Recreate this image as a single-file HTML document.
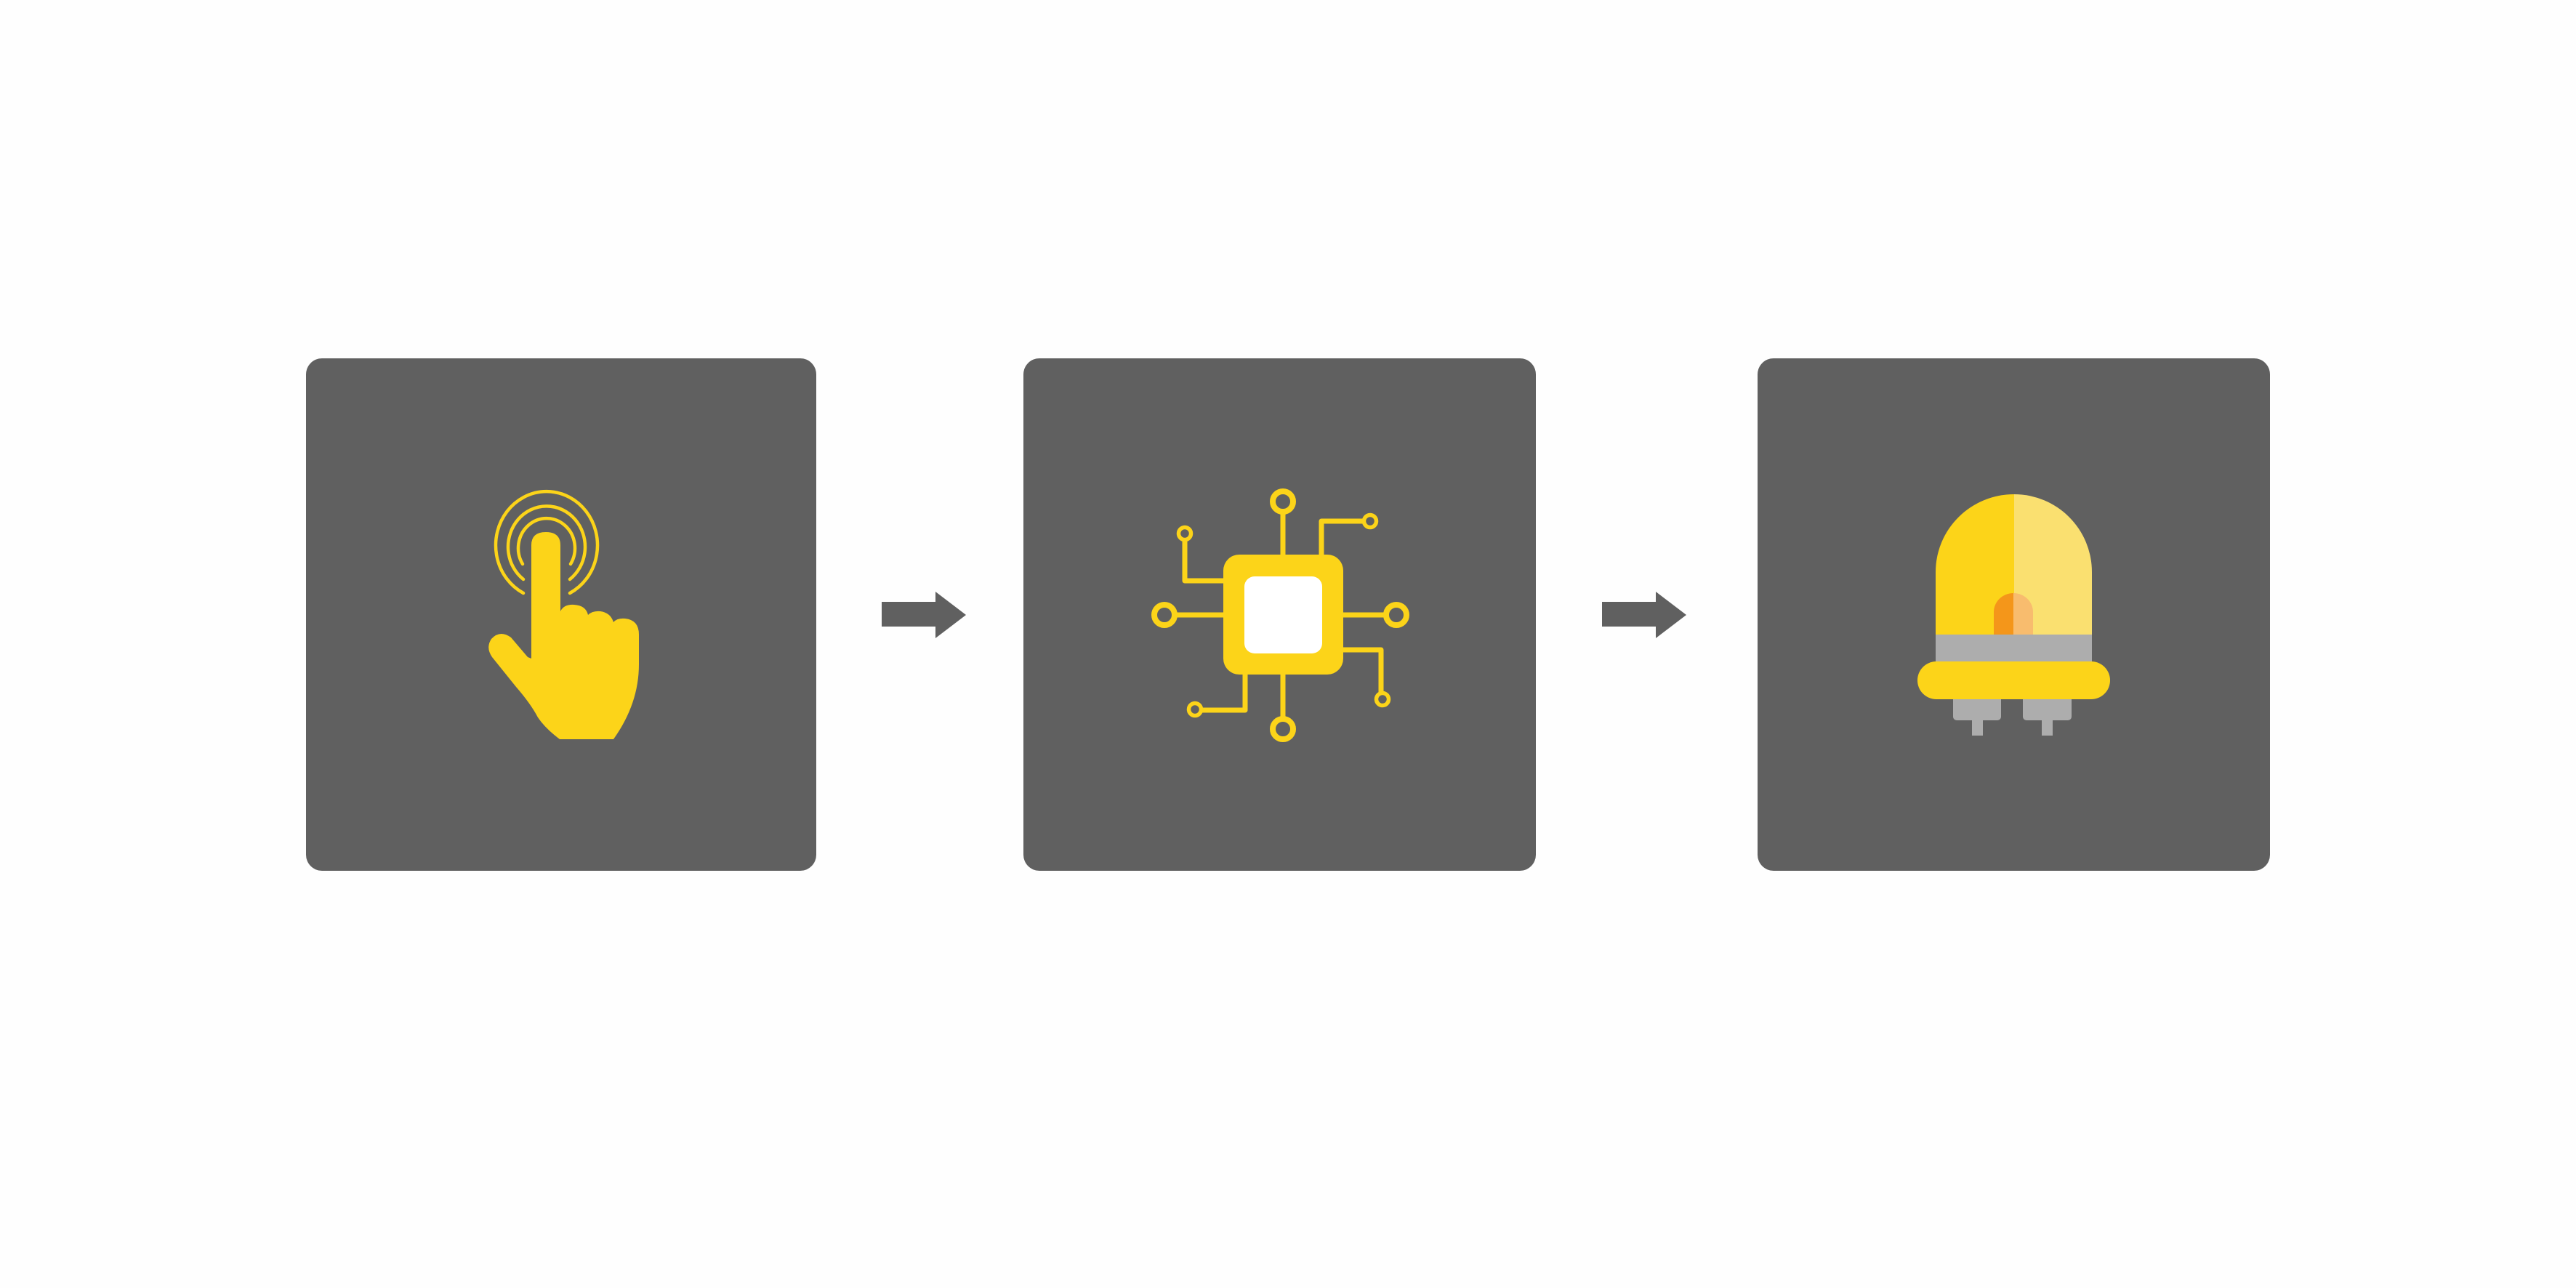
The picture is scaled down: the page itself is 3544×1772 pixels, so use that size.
<!DOCTYPE html>
<html><head><style>html,body{margin:0;padding:0;background:#fff;}svg{display:block}</style></head>
<body>
<svg width="3544" height="1772" viewBox="0 0 3544 1772" xmlns="http://www.w3.org/2000/svg">
<rect x="0" y="0" width="3544" height="1772" fill="#fefefe"/>
<rect x="421" y="493" width="702" height="705" rx="22" fill="#606060"/>
<rect x="1408" y="493" width="705" height="705" rx="22" fill="#606060"/>
<rect x="2418" y="493" width="705" height="705" rx="22" fill="#606060"/>
<polygon points="1213,828 1287,828 1287,814 1329,846 1287,878 1287,862 1213,862" fill="#606060"/>
<polygon points="2204,828 2278,828 2278,814 2320,846 2278,878 2278,862 2204,862" fill="#606060"/>
<!-- hand -->
<g transform="translate(0,6)" fill="none" stroke="#FCD419" stroke-width="4.5" stroke-linecap="round">
<path d="M720,810 A70,74 0 1 1 784,810"/>
<path d="M720,791 A53,56 0 1 1 784,791"/>
<path d="M719,770 A39,41 0 1 1 785,770"/>
</g>
<path fill="#FCD419" d="M731,906 L731,750 Q731,732 751,732 Q771,732 771,750 L771,841 Q776,831 790,832 Q806,833 809,846 Q815,840 826,841 Q840,843 844,856 Q849,850 860,851 Q879,853 879,873 L879,914 Q879,968 844,1017 L770,1017 Q750,1002 740,987 Q730,968 710,945 L677,904 Q668,891 676,879 Q688,866 703,877 L726,904 Z"/>
<!-- chip -->
<g stroke="#FCD419" stroke-width="7" fill="none" stroke-linejoin="round">
<line x1="1765" y1="705" x2="1765" y2="765"/>
<line x1="1765" y1="926" x2="1765" y2="988"/>
<line x1="1616" y1="846" x2="1685" y2="846"/>
<line x1="1846" y1="846" x2="1907" y2="846"/>
<polyline points="1818,765 1818,717 1877,717"/>
<polyline points="1630,742 1630,799 1685,799"/>
<polyline points="1713,926 1713,977 1652,977"/>
<polyline points="1846,894 1900,894 1900,954"/>
</g>
<g stroke="#FCD419" stroke-width="8" fill="none">
<circle cx="1765" cy="690" r="14"/>
<circle cx="1765" cy="1003" r="14"/>
<circle cx="1602" cy="846" r="14"/>
<circle cx="1921" cy="846" r="14"/>
</g>
<g stroke="#FCD419" stroke-width="5.5" fill="none">
<circle cx="1885" cy="717" r="8.5"/>
<circle cx="1630" cy="734" r="8.5"/>
<circle cx="1644" cy="976" r="8.5"/>
<circle cx="1902" cy="962" r="8.5"/>
</g>
<rect x="1683" y="763" width="165" height="165" rx="22" fill="#FCD419"/>
<rect x="1712" y="793" width="107" height="106" rx="14" fill="#fff"/>
<!-- lamp -->
<path d="M2663,873 L2663,787 A108,107 0 0 1 2771,680 L2771,873 Z" fill="#FCD419"/>
<path d="M2771,873 L2771,680 A107,107 0 0 1 2878,787 L2878,873 Z" fill="#FAE070"/>
<path d="M2743,873 L2743,842 A27,26 0 0 1 2770,816 L2770,873 Z" fill="#F4961A"/>
<path d="M2770,873 L2770,816 A27,26 0 0 1 2797,842 L2797,873 Z" fill="#F8BC6E"/>
<rect x="2663" y="873" width="215" height="38" fill="#ADADAD"/>
<rect x="2687" y="955" width="66" height="36" rx="5" fill="#ADADAD"/>
<rect x="2783" y="955" width="67" height="36" rx="5" fill="#ADADAD"/>
<rect x="2713" y="985" width="15" height="27" fill="#ADADAD"/>
<rect x="2809" y="985" width="15" height="27" fill="#ADADAD"/>
<rect x="2638" y="910" width="265" height="52" rx="26" fill="#FCD419"/>
</svg>
</body></html>
